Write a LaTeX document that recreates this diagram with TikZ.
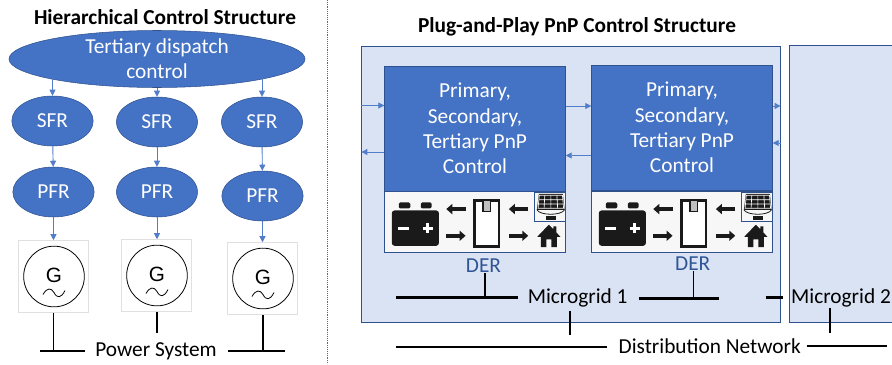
\documentclass[tikz,border=0pt]{standalone}
\usepackage{fontspec}
\setmainfont{Carlito}
\newfontfamily\genfont{Liberation Sans}
\usepackage{xcolor}
\usetikzlibrary{shapes.geometric, arrows.meta, positioning}
\definecolor{ctrlcolor}{RGB}{68,114,196}
\definecolor{edgecolor}{RGB}{47,82,143}
\definecolor{flowcolor}{RGB}{82,125,200}
\definecolor{panelcolor}{RGB}{218,227,243}
\definecolor{dercolor}{RGB}{47,85,151}
\definecolor{iconcolor}{RGB}{26,26,26}
\definecolor{derbgcolor}{RGB}{247,247,247}

\begin{document}
\begin{tikzpicture}[
    x=0.75pt, y=-0.75pt,
    title/.style={font=\fontsize{16}{19}\selectfont\bfseries},
    label/.style={font=\fontsize{16}{19}\selectfont, align=center, inner sep=0pt},
    oval/.style={draw=edgecolor, fill=ctrlcolor, ellipse, inner sep=0pt, text=white, minimum width=61pt, minimum height=37.5pt, font=\fontsize{16}{19}\selectfont, align=center},
    ctrlbox/.style={draw=edgecolor, fill=ctrlcolor, text=white, inner sep=0pt, minimum width=135.7pt, minimum height=93.5pt, font=\fontsize{16}{19}\selectfont, align=center},
    derbox/.style={draw=edgecolor, fill=derbgcolor, inner sep=0pt, minimum width=135.7pt, minimum height=45.7pt},
    panel/.style={fill=panelcolor, inner sep=0pt, minimum height=207pt},
    flow/.style={-{Triangle[length=4.5pt,width=4.5pt]}, flowcolor, line width=0.7pt},
    bus/.style={line width=1.7pt},
    stem/.style={line width=1.1pt},
    iconarrow/.style={-{Triangle[length=4.5pt,width=7.5pt]}, iconcolor, line width=2.8pt},
    genset/.pic={
        \node[draw=black!12, fill=white, inner sep=0pt, minimum width=52.5pt, minimum height=54pt] (-box) at (-1,0) {};
        \node[draw, circle, semithick, inner sep=0pt, minimum size=45.5pt] (-rotor) at (0,0) {};
        \node[font=\genfont\fontsize{15.5}{16}\selectfont, inner sep=0pt] (-letter) at (0,-1) {G};
        \draw[semithick] (-11,18) .. controls (-7,11) and (-3,11) .. (0,16) .. controls (3,22) and (7,22) .. (11,14);
    },
    dericons/.pic={
        % Battery
        \fill[iconcolor, rounded corners=2pt] (7.6,19.7) rectangle (54.6,55);
        \fill[iconcolor, rounded corners=1pt] (14.6,11.7) rectangle (26,17.7);
        \fill[iconcolor, rounded corners=1pt] (36.6,11.7) rectangle (47.3,17.7);
        \draw[white, line width=2.2pt] (13.6,37.3) -- (24.3,37.3);
        \draw[white, line width=2.2pt] (38.3,37.3) -- (49,37.3) (43.6,32) -- (43.6,42.6);
        % Converter
        \draw[iconcolor, line width=1.8pt, fill=white] (90.3,9.7) rectangle (114.6,55.7);
        \draw[iconcolor, line width=1pt, fill=black!25] (98.6,10) rectangle (106,20.7);
        % Power flows
        \draw[iconarrow] (81.3,18.3) -- (62,18.3);
        \draw[iconarrow] (62,45) -- (81.3,45);
        \draw[iconarrow] (144,18.3) -- (124.6,18.3);
        \draw[iconarrow] (124.6,45) -- (144,45);
        % Solar panel
        \draw[edgecolor, fill=derbgcolor, thick] (150.6,1.7) rectangle (181,30.7);
        \fill[iconcolor] (154.6,3) -- (178.6,3) -- (180.3,19) -- (152.6,19) -- cycle;
        \draw[white, line width=0.5pt] (155,4.5) -- (178.2,4.5) -- (179.3,17.5) -- (153.8,17.5) -- cycle;
        \draw[white, line width=0.5pt] (154.5,9) -- (178.8,9) (154,13.2) -- (179,13.2) (160.5,4.5) -- (159.8,17.5) (166.6,4.5) -- (166.6,17.5) (172.6,4.5) -- (173.4,17.5);
        \draw[iconcolor, semithick] (152.6,19) .. controls (156,25) and (177,25) .. (180.3,19);
        \fill[iconcolor] (161.3,25.5) rectangle (171.3,29.5);
        % House
        \fill[iconcolor] (164.5,34) -- (169,38.5) -- (169,35.5) -- (172,35.5) -- (172,41.5) -- (176,46) -- (172.5,46) -- (172.5,56.3) -- (167,56.3) -- (167,48.5) -- (162,48.5) -- (162,56.3) -- (156.5,56.3) -- (156.5,46) -- (153,46) -- cycle;
    }
]
    \useasboundingbox (0,0) rectangle (892,364);

    % Hierarchical side
    \node[title] (hiertitle) at (165,17) {Hierarchical Control Structure};
    \node[oval, minimum width=222pt] (tertiary) at (157,59) {Tertiary dispatch\\control};
    \node[oval] (sfr1) at (52.5,121) {SFR};
    \node[oval] (sfr2) at (157,122) {SFR};
    \node[oval] (sfr3) at (262,122) {SFR};
    \node[oval] (pfr1) at (53.5,192) {PFR};
    \node[oval] (pfr2) at (157,192) {PFR};
    \node[oval] (pfr3) at (262.5,196) {PFR};
    \pic (gen1) at (54,276.5) {genset};
    \pic (gen2) at (157,275.5) {genset};
    \pic (gen3) at (263,278.5) {genset};

    % Control flow
    \draw[flow] (tertiary.190 -| sfr1.north) -- (sfr1.north);
    \draw[flow] (tertiary.south -| sfr2.north) -- (sfr2.north);
    \draw[flow] (tertiary.350 -| sfr3.north) -- (sfr3.north);
    \draw[flow] (sfr1) -- (pfr1);
    \draw[flow] (sfr2) -- (pfr2);
    \draw[flow] (sfr3) -- (pfr3);
    \draw[flow] (pfr1.south) -- (gen1-box.north -| pfr1.south);
    \draw[flow] (pfr2.south) -- (gen2-box.north -| pfr2.south);
    \draw[flow] (pfr3.south) -- (gen3-box.north -| pfr3.south);

    % Power system bus
    \node[label] (powersys) at (156,351) {Power System};
    \coordinate (psleft) at (40,351);
    \coordinate (psright) at (285,351);
    \coordinate (psstem) at (157,333);
    \draw[bus] (psleft) -- (powersys.west -| 85,0);
    \draw[bus] (powersys.east -| 228,0) -- (psright);
    \draw[stem] (gen1-box.south -| 53.5,0) -- (53.5,351);
    \draw[stem] (gen2-box.south -| psstem) -- (psstem);
    \draw[stem] (gen3-box.south -| 263,0) -- (263,351);

    % Separator
    \coordinate (septop) at (327,0);
    \coordinate (sepbot) at (327,364);
    \draw[densely dotted, black!60] (septop) -- (sepbot);

    % Plug-and-play side
    \node[title] (pnptitle) at (577,27) {Plug-and-Play PnP Control Structure};
    \node[panel, draw=edgecolor, minimum width=314pt] (mg1) at (571,184) {};
    \node[panel, minimum width=76.5pt] (mg2) at (841,184) {};
    \draw[edgecolor] (mg2.north east) -- (mg2.north west) -- (mg2.south west) -- (mg2.south east);

    % Control boxes
    \node[ctrlbox] (ctrl1) at (475,128.5) {Primary,\\Secondary,\\Tertiary PnP\\Control};
    \node[ctrlbox] (ctrl2) at (682,127.5) {Primary,\\Secondary,\\Tertiary PnP\\Control};
    \node[derbox] (der1) at (475,221.5) {};
    \node[derbox] (der2) at (682,221.5) {};
    \pic at (der1.north west) {dericons};
    \pic at (der2.north west) {dericons};
    \node[label, text=dercolor] (derlabel1) at (483.5,266) {DER};
    \node[label, text=dercolor] (derlabel2) at (692.7,264) {DER};

    % Exchange between controllers
    \draw[flow] (mg1.west |- 0,105.5) -- (ctrl1.west |- 0,105.5);
    \draw[flow] (ctrl1.west |- 0,152) -- (mg1.west |- 0,152);
    \draw[flow] (ctrl1.east |- 0,106) -- (ctrl2.west |- 0,106);
    \draw[flow] (ctrl2.west |- 0,155.5) -- (ctrl1.east |- 0,155.5);
    \draw[flow] (ctrl2.east |- 0,106) -- (mg1.east |- 0,106);
    \draw[flow] (mg1.east |- 0,143) -- (ctrl2.east |- 0,143);

    % Microgrid buses
    \node[label] (mg1label) at (577.7,298) {Microgrid 1};
    \node[label] (mg2label) at (841,298) {Microgrid 2};
    \coordinate (bus1a) at (396,297.5);
    \coordinate (bus1b) at (518,297.5);
    \coordinate (bus2a) at (638.7,298.5);
    \coordinate (bus2b) at (719.3,298.5);
    \coordinate (bus3a) at (765.5,297.5);
    \coordinate (bus3b) at (782.5,297.5);
    \draw[bus] (bus1a) -- (bus1b);
    \draw[bus] (bus2a) -- (bus2b);
    \draw[bus] (bus3a) -- (bus3b);
    \draw[stem] (derlabel1.south -| 485,0) -- (485,297.5);
    \draw[stem] (derlabel2.south -| 693.7,0) -- (693.7,298.5);

    % Distribution network
    \node[label] (distnet) at (709.7,346) {Distribution Network};
    \coordinate (dist1a) at (396,346.7);
    \coordinate (dist1b) at (607,346.7);
    \coordinate (dist2a) at (806.7,346);
    \coordinate (dist2b) at (886.7,346);
    \draw[bus] (dist1a) -- (dist1b);
    \draw[bus] (dist2a) -- (dist2b);
    \coordinate (tie1) at (570,335);
    \coordinate (tie2) at (830,333);
    \draw[stem] (570,310.5) -- (tie1);
    \draw[stem] (830,308) -- (tie2);
\end{tikzpicture}
\end{document}
